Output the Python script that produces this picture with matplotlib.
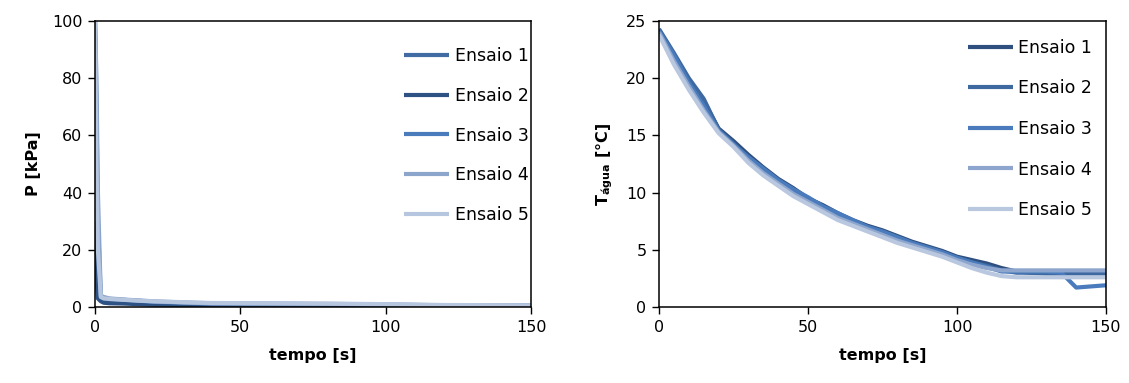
"""Pressure and water temperature over time for five trials (two panels)."""

import matplotlib
matplotlib.use("Agg")
import matplotlib.pyplot as plt

# ---- data -----------------------------------------------------------------
labels = ["Ensaio 1", "Ensaio 2", "Ensaio 3", "Ensaio 4", "Ensaio 5"]

# Left panel: pressure P [kPa]
t_p = [0, 0.5, 1, 2, 3, 5, 10, 15, 20, 30, 40, 60, 80, 100, 120, 150]
p_e1 = [100, 60, 20, 3.0, 2.8, 2.5, 2.3, 2.0, 1.6, 1.3, 1.1, 1.0, 0.9, 0.7, 0.6, 0.5]
p_e2 = [30, 10, 3.0, 2.0, 1.5, 1.3, 1.2, 1.0, 0.8, 0.7, 0.6, 0.6, 0.5, 0.5, 0.4, 0.4]
p_e3 = [100, 70, 30, 3.5, 3.0, 2.8, 2.5, 2.2, 1.8, 1.5, 1.2, 1.1, 1.0, 0.8, 0.6, 0.5]
p_e4 = [100, 80, 40, 4.0, 3.5, 3.0, 2.6, 2.3, 2.0, 1.6, 1.3, 1.2, 1.1, 0.9, 0.6, 0.5]
p_e5 = [100, 50, 20, 3.5, 3.0, 2.8, 2.5, 2.2, 2.0, 1.7, 1.4, 1.3, 1.2, 1.0, 0.7, 0.6]

# Right panel: water temperature [°C], every 5 s
t_t = [0, 5, 10, 15, 20, 25, 30, 35, 40, 45, 50, 55, 60, 65, 70, 75,
       80, 85, 90, 95, 100, 105, 110, 115, 120, 125, 130, 135, 140, 145, 150]
t_e1 = [24.2, 22.0, 19.8, 18.0, 15.6, 14.5, 13.3, 12.2, 11.2, 10.4, 9.5, 8.9, 8.2, 7.6, 7.1, 6.7,
        6.2, 5.7, 5.3, 4.9, 4.4, 4.1, 3.8, 3.4, 3.1, 3.0, 3.0, 3.0, 3.0, 3.0, 3.0]
t_e2 = [24.3, 22.2, 20.0, 18.2, 15.5, 14.3, 13.0, 12.0, 11.0, 10.0, 9.4, 8.7, 8.0, 7.5, 7.0, 6.5,
        6.0, 5.5, 5.1, 4.7, 4.3, 3.9, 3.6, 3.2, 3.0, 3.0, 2.9, 2.9, 2.9, 2.9, 2.9]
t_e3 = [24.1, 22.0, 19.6, 17.6, 15.4, 14.2, 13.1, 12.1, 11.1, 10.3, 9.6, 8.8, 8.2, 7.6, 7.0, 6.6,
        6.1, 5.6, 5.2, 4.8, 4.3, 3.9, 3.5, 3.1, 3.1, 3.1, 3.1, 3.0, 1.7, 1.8, 1.9]
t_e4 = [24.0, 21.5, 19.3, 17.2, 15.3, 14.1, 12.8, 11.7, 10.8, 9.9, 9.2, 8.5, 7.8, 7.3, 6.8, 6.3,
        5.8, 5.4, 5.0, 4.6, 4.1, 3.7, 3.4, 3.2, 3.2, 3.2, 3.2, 3.2, 3.2, 3.2, 3.2]
t_e5 = [23.8, 21.2, 19.0, 17.0, 15.2, 14.0, 12.6, 11.5, 10.6, 9.7, 9.0, 8.3, 7.6, 7.1, 6.6, 6.1,
        5.6, 5.2, 4.8, 4.4, 3.9, 3.4, 3.0, 2.7, 2.6, 2.6, 2.6, 2.6, 2.6, 2.6, 2.6]

x_ticks = [0, 50, 100, 150]
p_ticks = [0, 20, 40, 60, 80, 100]
t_ticks = [0, 5, 10, 15, 20, 25]

# ---- style ----------------------------------------------------------------
colors_left = ["#416ca3", "#2d5283", "#4a7cbb", "#8ca5cb", "#b7c6df"]
colors_right = ["#2f4f7e", "#3d68a0", "#4a7cbd", "#8ea6cd", "#b9c7df"]
plt.rcParams["font.family"] = ["DejaVu Sans"]
plt.rcParams["mathtext.default"] = "regular"

fig = plt.figure(figsize=(11.29, 3.83), dpi=100)
ax1 = fig.add_axes([95 / 1129, 1 - 307 / 383, 436 / 1129, 286 / 383])
ax2 = fig.add_axes([659 / 1129, 1 - 307 / 383, 447 / 1129, 286 / 383])


def style_axes(ax, yticks, ylim):
    ax.set_xlim(0, 150)
    ax.set_ylim(*ylim)
    ax.set_xticks(x_ticks)
    ax.set_yticks(yticks)
    for s in ax.spines.values():
        s.set_color("black")
        s.set_linewidth(1.1)
    ax.tick_params(direction="out", length=5, width=1, labelsize=11.5, pad=4)
    ax.set_xlabel("tempo [s]", fontsize=11.5, fontweight="bold", labelpad=10)


leg_kw = dict(loc="upper right", frameon=False, fontsize=12.5, handlelength=2.6,
              handletextpad=0.3, borderaxespad=0)

# Left: pressure
for ys, c, lab in zip([p_e1, p_e2, p_e3, p_e4, p_e5], colors_left, labels):
    ax1.plot(t_p, ys, color=c, lw=3, label=lab, solid_capstyle="butt")
style_axes(ax1, p_ticks, (0, 100))
ax1.set_ylabel("P [kPa]", fontsize=11.5, fontweight="bold", labelpad=8)
ax1.legend(bbox_to_anchor=(1.01, 0.933), labelspacing=1.25, **leg_kw)

# Right: temperature
for ys, c, lab in zip([t_e1, t_e2, t_e3, t_e4, t_e5], colors_right, labels):
    ax2.plot(t_t, ys, color=c, lw=3, label=lab, solid_capstyle="butt")
style_axes(ax2, t_ticks, (0, 25))
ax2.set_ylabel(r"T$_{água}$ [°C]", fontsize=11.5, fontweight="bold", labelpad=8)
ax2.legend(bbox_to_anchor=(0.985, 0.962), labelspacing=1.3, **leg_kw)

fig.savefig("out.png", dpi=100)
